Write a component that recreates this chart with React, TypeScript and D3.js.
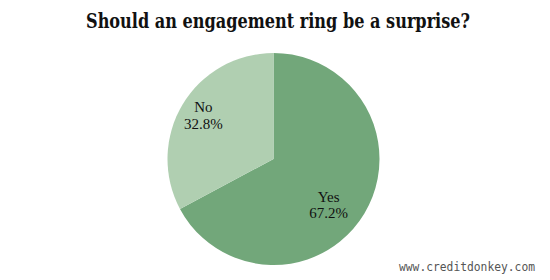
import React from "react";
import * as d3 from "d3";

const categories = ["Yes", "No"];
const values = [67.2, 32.8];
const colors = ["#72a77a", "#b0cfb1"];

export default function App() {
  const width = 550, height = 280;
  const cx = 273.5, cy = 159, r = 106;
  const pie = d3.pie<number>().sort(null).value((d) => d);
  const arcs = pie(values);
  const arc = d3.arc<d3.PieArcDatum<number>>().innerRadius(0).outerRadius(r);
  const labelArc = d3.arc<d3.PieArcDatum<number>>().innerRadius(r * 0.75).outerRadius(r * 0.75);
  const nudge = [[-13, 2], [-2, -6]];
  return (
    <svg width={width} height={height} style={{ position: "absolute", left: 0, top: 0, background: "#fff" }}>
      <text x={278} y={28} textAnchor="middle" fontFamily="DejaVu Serif Condensed, DejaVu Serif" fontWeight="bold" fontSize={20} fill="#111" textLength={384} lengthAdjust="spacingAndGlyphs">
        Should an engagement ring be a surprise?
      </text>
      <g transform={`translate(${cx},${cy})`}>
        {arcs.map((a, i) => (
          <path key={i} d={arc(a) || ""} fill={colors[i]} />
        ))}
        {arcs.map((a, i) => {
          const [x0, y0] = labelArc.centroid(a);
          const x = x0 + nudge[i][0], y = y0 + nudge[i][1];
          return (
            <text key={"l" + i} x={x} y={y} textAnchor="middle" fontFamily="Liberation Serif, DejaVu Serif" fontSize={15} fill="#111">
              <tspan x={x} dy={0}>{categories[i]}</tspan>
              <tspan x={x} dy={16.5}>{values[i].toFixed(1)}%</tspan>
            </text>
          );
        })}
      </g>
      <text x={535} y={271} textAnchor="end" fontFamily="DejaVu Sans Mono" fontSize={12} fill="#555" textLength={136} lengthAdjust="spacingAndGlyphs">
        www.creditdonkey.com
      </text>
    </svg>
  );
}
